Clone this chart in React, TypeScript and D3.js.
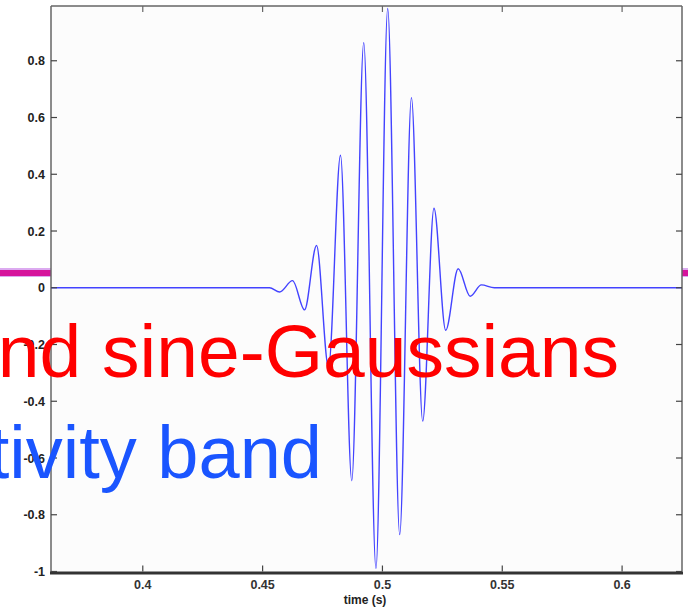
import React from "react";
import * as d3 from "d3";

// Extrema of the sine-Gaussian trace (time in s, amplitude)
const times = [0.3617, 0.4500, 0.4529, 0.4571, 0.4625, 0.4675, 0.4725, 0.4775, 0.4825, 0.4872, 0.4922, 0.4973, 0.5022, 0.5072, 0.5121, 0.5168, 0.5215, 0.5264, 0.5316, 0.5366, 0.5413, 0.5467, 0.5550, 0.6250];
const amps = [0, 0, 0, -0.015, 0.025, -0.078, 0.149, -0.28, 0.467, -0.68, 0.864, -0.99, 0.984, -0.87, 0.67, -0.47, 0.28, -0.15, 0.067, -0.03, 0.01, 0, 0, 0];

const xTicks = [0.4, 0.45, 0.5, 0.55, 0.6];
const xTickLabels = ["0.4", "0.45", "0.5", "0.55", "0.6"];
const yTicks = [-1, -0.8, -0.6, -0.4, -0.2, 0, 0.2, 0.4, 0.6, 0.8];
const yTickLabels = ["-1", "-0.8", "-0.6", "-0.4", "-0.2", "0", "0.2", "0.4", "0.6", "0.8"];
const xLabel = "time (s)";
const overlayRed = "nd sine-Gaussians";
const overlayBlue = "tivity band";

export default function App() {
  const W = 688, H = 608;
  const L = 51, R = 682, T = 6, B = 571.5;
  const x = d3.scaleLinear().domain([0.3617, 0.625]).range([L, R]);
  const y = d3.scaleLinear().domain([-1, 0.993]).range([B, T]);
  const pts: [number, number][] = times.map((t, i) => [t, amps[i]]);
  const line = d3.line<[number, number]>()
    .x(d => x(d[0]))
    .y(d => y(d[1]))
    .curve(d3.curveMonotoneX);
  const font = "'Liberation Sans', Arial, Helvetica, sans-serif";
  return (
    <svg width={W} height={H} style={{ position: "absolute", left: 0, top: 0, background: "#fff" }}>
      <rect x={0} y={0} width={W} height={H} fill="#ffffff" />
      {/* magenta slide rule behind plot */}
      <rect x={0} y={268} width={W} height={9} fill="#dcaaf0" />
      <rect x={0} y={270} width={W} height={6} fill="#d6149c" />
      {/* plot area */}
      <rect x={L} y={T} width={R - L} height={B - T} fill="#fcfcfc" />
      <path d={line(pts) || ""} fill="none" stroke="#4343ff" strokeWidth={1.4} strokeLinejoin="round" />
      {/* box */}
      <line x1={L} y1={T} x2={R} y2={T} stroke="#666" strokeWidth={1.5} />
      <line x1={R} y1={T} x2={R} y2={B} stroke="#666" strokeWidth={1.5} />
      <line x1={L} y1={T} x2={L} y2={B + 1} stroke="#666" strokeWidth={1.5} />
      <line x1={L - 1} y1={B + 1.5} x2={R + 1} y2={B + 1.5} stroke="#333" strokeWidth={3} />
      {xTicks.map((t, i) => (
        <g key={"xt" + i}>
          <line x1={x(t)} x2={x(t)} y1={B} y2={B - 6} stroke="#444" strokeWidth={1.2} />
          <line x1={x(t)} x2={x(t)} y1={T} y2={T + 6} stroke="#666" strokeWidth={1.2} />
          <text x={x(t)} y={589} textAnchor="middle" fontFamily={font} fontSize={12.5} fontWeight="bold" fill="#333">
            {xTickLabels[i]}
          </text>
        </g>
      ))}
      {yTicks.map((v, i) => (
        <g key={"yt" + i}>
          <line x1={L} x2={L + 6} y1={y(v)} y2={y(v)} stroke="#444" strokeWidth={1.2} />
          <line x1={R} x2={R - 6} y1={y(v)} y2={y(v)} stroke="#444" strokeWidth={1.2} />
          <text x={45} y={y(v) + 4.5} textAnchor="end" fontFamily={font} fontSize={12.5} fontWeight="bold" fill="#222">
            {yTickLabels[i]}
          </text>
        </g>
      ))}
      <text x={365} y={604} textAnchor="middle" fontFamily={font} fontSize={12} fontWeight="bold" fill="#222">
        {xLabel}
      </text>
      {/* slide overlay text */}
      <text x={619} y={377} textAnchor="end" fontFamily={font} fontSize={75} fill="#ff0000">
        {overlayRed}
      </text>
      <text x={322} y={478} textAnchor="end" fontFamily={font} fontSize={74} fill="#1a55ff">
        {overlayBlue}
      </text>
    </svg>
  );
}
